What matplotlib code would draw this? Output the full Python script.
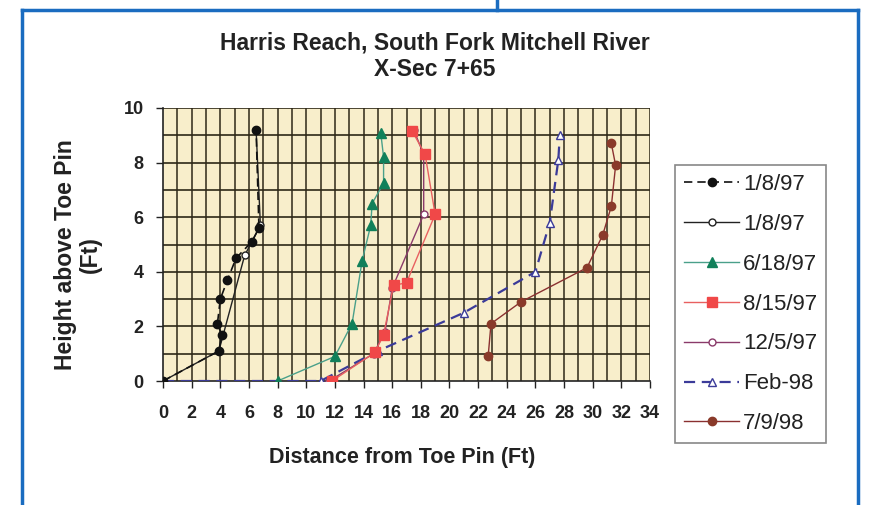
import matplotlib
matplotlib.use("Agg")
import matplotlib.pyplot as plt
from matplotlib.lines import Line2D

plt.rcParams['font.family'] = ['Liberation Sans', 'DejaVu Sans']

title1 = "Harris Reach, South Fork Mitchell River"
title2 = "X-Sec 7+65"
xlabel = "Distance from Toe Pin (Ft)"
ylabel = "Height above Toe Pin\n(Ft)"
xticks = list(range(0, 35, 2))
yticks = list(range(0, 11, 2))

s1_label = "1/8/97"
s1_x = [0, 3.9, 4.1, 3.8, 4.0, 4.5, 5.1, 6.2, 6.7, 6.5]
s1_y = [0, 1.1, 1.7, 2.1, 3.0, 3.7, 4.5, 5.1, 5.6, 9.2]

s2_label = "1/8/97"
s2_x = [0, 3.9, 5.7, 6.8, 6.5]
s2_y = [0, 1.1, 4.6, 5.7, 9.2]

s3_label = "6/18/97"
s3_x = [8.0, 12.0, 13.2, 13.9, 14.5, 14.6, 15.4, 15.4, 15.2]
s3_y = [0.0, 0.9, 2.1, 4.4, 5.7, 6.5, 7.25, 8.2, 9.1]

s4_label = "8/15/97"
s4_x = [11.8, 14.8, 15.4, 16.1, 17.0, 19.0, 18.3, 17.4]
s4_y = [0.0, 1.05, 1.7, 3.5, 3.6, 6.1, 8.3, 9.15]

s5_label = "12/5/97"
s5_x = [11.6, 14.7, 15.5, 16.0, 18.2, 18.2, 17.5]
s5_y = [0.0, 1.0, 1.8, 3.4, 6.1, 8.3, 9.2]

s6_label = "Feb-98"
s6_x = [0, 11.0, 15.0, 21.0, 26.0, 27.0, 27.6, 27.7]
s6_y = [0, 0.0, 1.1, 2.5, 4.0, 5.8, 8.1, 9.0]

s7_label = "7/9/98"
s7_x = [22.7, 22.9, 25.0, 29.6, 30.7, 31.3, 31.6, 31.3]
s7_y = [0.9, 2.1, 2.9, 4.15, 5.35, 6.4, 7.9, 8.7]

W, H = 875, 505
fig = plt.figure(figsize=(W / 100, H / 100), dpi=100)
ax = fig.add_axes([163 / W, (H - 381) / H, 487 / W, 273 / H])
ax.set_facecolor('#f8eecb')
ax.set_xlim(0, 34)
ax.set_ylim(0, 10)

for v in range(1, 35):
    ax.axvline(v, color='#2e2818', lw=1.1, zorder=1)
for v in range(1, 11):
    ax.axhline(v, color='#2e2818', lw=1.2, zorder=1)

h6, = ax.plot(s6_x, s6_y, color='#3b3b99', lw=1.6, ls=(0, (5, 3)), marker='^', ms=5.5,
              mfc='white', mec='#3b3b99', zorder=3)
h2, = ax.plot(s2_x, s2_y, color='#222222', lw=1.0, marker='o', ms=5,
              mfc='white', mec='#222222', zorder=4)
h1, = ax.plot(s1_x, s1_y, color='#111111', lw=1.2, ls=(0, (5, 3)), marker='o', ms=6,
              mfc='#111111', mec='#111111', zorder=5)
h3, = ax.plot(s3_x, s3_y, color='#4aa08a', lw=1.0, marker='^', ms=6.5,
              mfc='#11805a', mec='#11805a', zorder=4)
h5, = ax.plot(s5_x, s5_y, color='#8a3a6a', lw=1.0, marker='o', ms=5,
              mfc='white', mec='#8a3a6a', zorder=4)
h4, = ax.plot(s4_x, s4_y, color='#e86060', lw=1.0, marker='s', ms=6.5,
              mfc='#f04848', mec='#f04848', zorder=4)
h7, = ax.plot(s7_x, s7_y, color='#8a3030', lw=1.0, marker='o', ms=6,
              mfc='#8a3a2a', mec='#8a3a2a', zorder=4)

for s in ['top', 'right']:
    ax.spines[s].set_visible(False)
for s in ['left', 'bottom']:
    ax.spines[s].set_color('#222222')
    ax.spines[s].set_linewidth(1.2)

ax.set_xticks(xticks)
ax.set_yticks(yticks)
ax.tick_params(axis='both', labelsize=13, length=5, width=1, direction='out',
               color='#222222')
ax.tick_params(axis='x', pad=12)
ax.tick_params(axis='y', pad=9)
for lbl in ax.get_xticklabels() + ax.get_yticklabels():
    lbl.set_fontweight('bold')
    lbl.set_color('#222222')

fig.text(402 / W, 1 - 457 / H, xlabel, ha='center', va='center', fontsize=15.5,
         fontweight='bold', color='#222222')
fig.text(78 / W, 1 - 255 / H, ylabel, ha='center', va='center', rotation=90,
         multialignment='center', fontsize=16.5, fontweight='bold', color='#222222',
         linespacing=1.15)
fig.text(435 / W, 1 - 43 / H, title1, ha='center', va='center', fontsize=16.5,
         fontweight='bold', color='#222222')
fig.text(435 / W, 1 - 70 / H, title2, ha='center', va='center', fontsize=16.5,
         fontweight='bold', color='#222222')

hs = [h1, h2, h3, h4, h5, h6, h7]
order = [s1_label, s2_label, s3_label, s4_label, s5_label, s6_label, s7_label]
leg = fig.legend(hs, order, loc='upper left',
                 bbox_to_anchor=(675 / W, 1 - 165 / H), fontsize=16,
                 handlelength=2.5, labelspacing=0.85, borderpad=0.4,
                 fancybox=False, edgecolor='#888888', framealpha=1, handletextpad=0.15,
                 borderaxespad=0)
leg.get_frame().set_linewidth(1.2)
for t in leg.get_texts():
    t.set_color('#222222')

blue = '#1a6cc0'
def fl(x0, y0, x1, y1):
    fig.add_artist(Line2D([x0 / W, x1 / W], [1 - y0 / H, 1 - y1 / H], color=blue, lw=2.5,
                          transform=fig.transFigure))
fl(22, 10, 858, 10)
fl(22, 10, 22, 505)
fl(858, 10, 858, 505)
fl(497, 0, 497, 10)

fig.savefig('out.png', dpi=100)
